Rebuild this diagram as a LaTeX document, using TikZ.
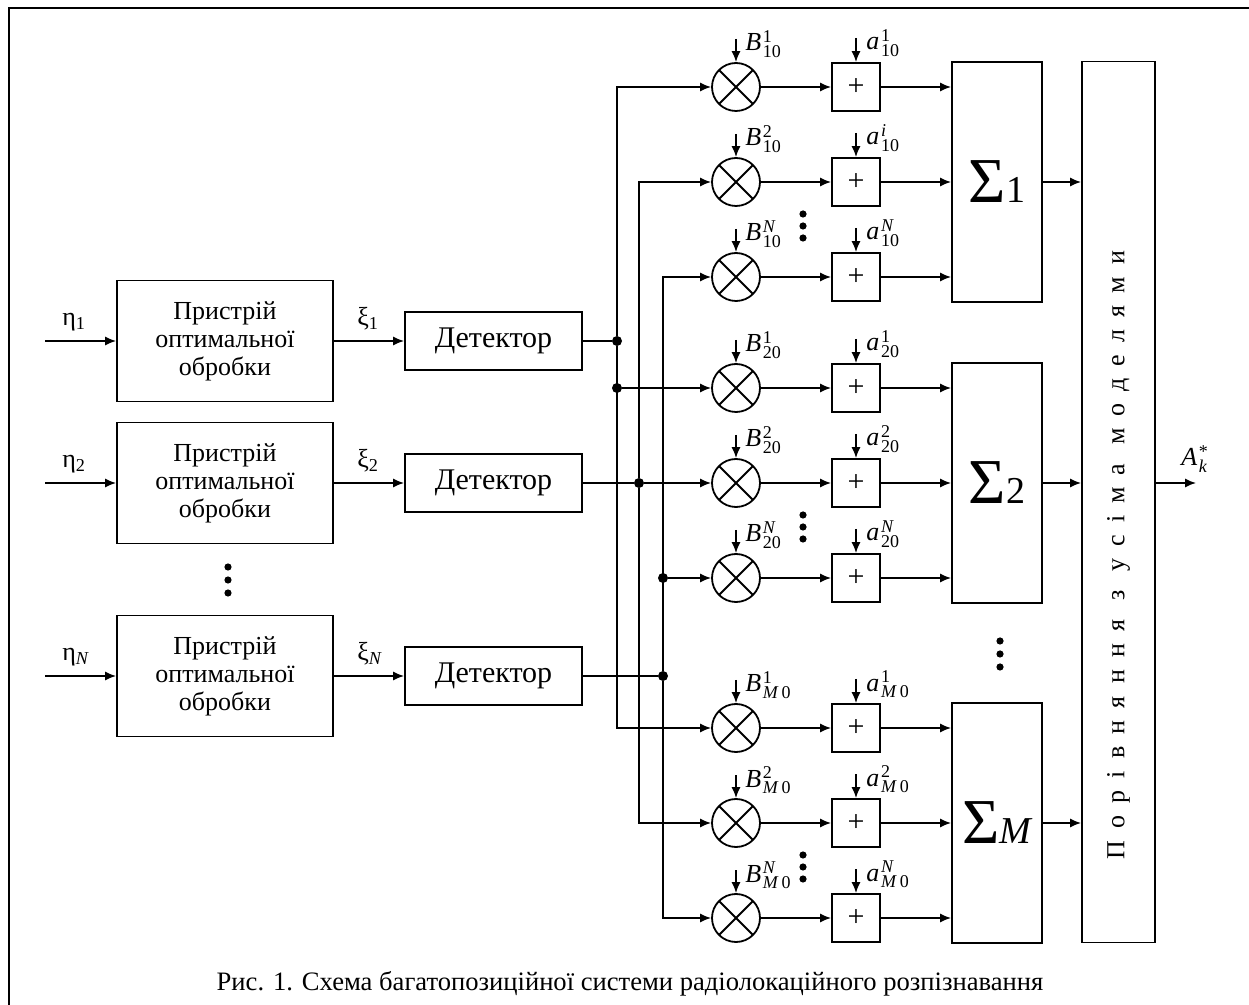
\documentclass[tikz,border=0pt]{standalone}
\usepackage{fontspec}
\setmainfont{Liberation Serif}
\usetikzlibrary{arrows.meta}
\newcommand{\scr}[1]{{\fontsize{9}{10}\selectfont #1}}
\newcommand{\lbl}[3]{#1\kern0.8pt\rlap{\raisebox{4.2pt}{\scr{#2}}}\raisebox{-3.3pt}{\scr{#3}}}
\tikzset{
  blk/.style={draw, line width=0.9pt, align=center, minimum width=108pt, minimum height=60.5pt, inner sep=0pt},
  det/.style={draw, line width=0.9pt, minimum width=88.5pt, minimum height=29pt, inner sep=0pt, font=\fontsize{15}{16}\selectfont},
  mult/.style={draw, circle, line width=0.9pt, minimum size=24pt, inner sep=0pt,
    path picture={\draw[line width=0.9pt] (path picture bounding box.north west) -- (path picture bounding box.south east)
      (path picture bounding box.north east) -- (path picture bounding box.south west);}},
  adder/.style={draw, line width=0.9pt, minimum size=24pt, inner sep=0pt, font=\fontsize{15}{16}\selectfont},
  sumbox/.style={draw, line width=0.9pt, minimum width=45pt, minimum height=120pt, inner sep=0pt},
  arr/.style={-{Latex[length=5.5pt,width=4.6pt]}, line width=0.9pt},
  wire/.style={line width=0.9pt},
  jdot/.style={circle, fill, inner sep=0pt, minimum size=5pt},
  vdot/.style={circle, fill, inner sep=0pt, minimum size=3.6pt},
  lab/.style={anchor=base west, inner sep=0pt}
}
\begin{document}
\begin{tikzpicture}[x=0.5pt, y=-0.5pt, every node/.style={font=\fontsize{13}{14}\selectfont}]
  \useasboundingbox (0,0) rectangle (1249,1005);
  \draw[line width=1pt] (9,1005) -- (9,8) -- (1249,8);

  % input channels
  \node[blk] (p1) at (225,341) {Пристрій\\оптимальної\\обробки};
  \node[blk] (p2) at (225,483) {Пристрій\\оптимальної\\обробки};
  \node[blk] (p3) at (225,676) {Пристрій\\оптимальної\\обробки};
  \node[det] (d1) at (493.5,341) {Детектор};
  \node[det] (d2) at (493.5,483) {Детектор};
  \node[det] (d3) at (493.5,676) {Детектор};
  \coordinate (in1) at (45,341);
  \coordinate (in2) at (45,483);
  \coordinate (in3) at (45,676);
  \draw[arr] (in1) -- (p1);
  \draw[arr] (in2) -- (p2);
  \draw[arr] (in3) -- (p3);
  \draw[arr] (p1) -- (d1);
  \draw[arr] (p2) -- (d2);
  \draw[arr] (p3) -- (d3);
  \node[lab] at (62,326) {η\textsubscript{1}};
  \node[lab] at (62,468) {η\textsubscript{2}};
  \node[lab] at (62,661) {η\textsubscript{\textit{N}}};
  \node[lab] at (357,326) {ξ\textsubscript{1}};
  \node[lab] at (357,468) {ξ\textsubscript{2}};
  \node[lab] at (357,661) {ξ\textsubscript{\textit{N}}};
  \foreach \yy in {567,580,593} \node[vdot] at (228,\yy) {};

  % sums and comparison
  \node[sumbox] (s1) at (997,182) {{\fontsize{32}{32}\selectfont Σ}{\fontsize{19}{19}\selectfont 1}};
  \node[sumbox] (s2) at (997,483) {{\fontsize{32}{32}\selectfont Σ}{\fontsize{19}{19}\selectfont 2}};
  \node[sumbox] (s3) at (997,823) {{\fontsize{32}{32}\selectfont Σ}{\fontsize{19}{19}\selectfont\itshape M}};
  \foreach \yy in {641,654,667} \node[vdot] at (1000,\yy) {};
  \node[draw, line width=0.9pt, minimum width=36.5pt, minimum height=440.5pt] (cmp) at (1118.5,502) {};
  \node[rotate=90] (cmplbl) at (1118.5,555) {\addfontfeature{LetterSpace=47}Порівняння з усіма моделями};
  \foreach \g in {1,2,3} \draw[arr] (s\g) -- (s\g -| cmp.west);
  \coordinate (out) at (1196,483);
  \draw[arr] (cmp.east |- out) -- (out);
  \node[lab] at (1181,466) {\lbl{\textit{A}}{*}{\textit{k}}};

  % multipliers and adders
  \foreach \g/\yy/\sub/\atwo in {1/87/10/\textit{i}, 2/388/20/2, 3/728/{\textit{M}\,0}/2} {
    \foreach \k/\sup/\asup in {1/1/1, 2/2/\atwo, 3/\textit{N}/\textit{N}} {
      \pgfmathsetmacro\y{\yy+95*(\k-1)}
      \node[mult] (m\g\k) at (736,\y) {};
      \node[adder] (a\g\k) at (856,\y) {+};
      \coordinate (bt\g\k) at (736,\y-48);
      \coordinate (at\g\k) at (856,\y-49);
      \draw[arr] (bt\g\k) -- (m\g\k);
      \draw[arr] (at\g\k) -- (a\g\k);
      \draw[arr] (m\g\k) -- (a\g\k);
      \draw[arr] (a\g\k) -- (a\g\k -| s\g.west);
      \node[lab] at (745,\y-36) {\lbl{\textit{B}}{\sup}{\sub}};
      \node[lab] at (866,\y-37) {\lbl{\textit{a}}{\asup}{\sub}};
    }
    \foreach \dd in {32,44,56} \node[vdot] at (803,\yy+95+\dd) {};
  }

  % buses
  \node[jdot] (j1) at (617,341) {};
  \node[jdot] (j2) at (639,483) {};
  \node[jdot] (j3) at (663,676) {};
  \node[jdot] (jb1) at (617,388) {};
  \node[jdot] (jb3) at (663,578) {};
  \draw[wire] (d1) -- (j1);
  \draw[wire] (d2) -- (j2);
  \draw[wire] (d3) -- (j3);
  \draw[arr] (j1) |- (m11);
  \draw[arr] (j1) |- (m31);
  \draw[arr] (jb1) -- (m21);
  \draw[arr] (j2) |- (m12);
  \draw[arr] (j2) |- (m32);
  \draw[arr] (j2) -- (m22);
  \draw[arr] (j3) |- (m13);
  \draw[arr] (j3) |- (m33);
  \draw[arr] (jb3) -- (m23);

  \node[anchor=base, font=\fontsize{13.3}{14}\selectfont] (cap) at (630,990) {Рис. 1. Схема багатопозиційної системи радіолокаційного розпізнавання};
\end{tikzpicture}
\end{document}
